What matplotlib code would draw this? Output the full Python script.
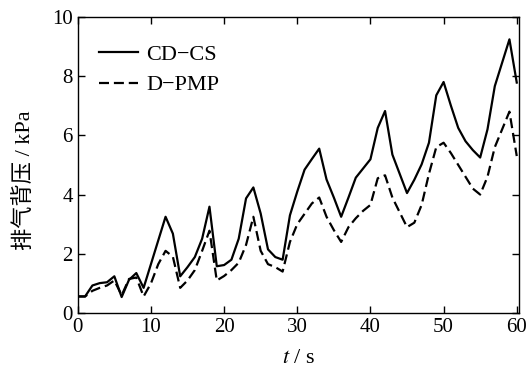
import numpy as np
import matplotlib
matplotlib.use('Agg')
import matplotlib.pyplot as plt

plt.rcParams['font.family'] = ['Liberation Serif', 'Noto Sans CJK SC']
plt.rcParams['mathtext.fontset'] = 'stix'

# 时间 (s)
t = np.arange(0, 61)

# CD-CS 排气背压 (kPa)
cdcs = [0.56, 0.56, 0.93, 1.01, 1.04, 1.24, 0.54, 1.12, 1.35, 0.85,
        1.65, 2.45, 3.25, 2.68, 1.24, 1.55, 1.89, 2.51, 3.59, 1.58,
        1.62, 1.80, 2.51, 3.87, 4.24, 3.36, 2.15, 1.89, 1.80, 3.30,
        4.10, 4.84, 5.20, 5.55, 4.51, 3.90, 3.25, 3.90, 4.57, 4.88,
        5.19, 6.25, 6.82, 5.35, 4.70, 4.05, 4.50, 5.02, 5.75, 7.35,
        7.80, 7.00, 6.25, 5.80, 5.50, 5.25, 6.20, 7.66, 8.45, 9.24,
        7.78]

# D-PMP 排气背压 (kPa)
dpmp = [0.56, 0.56, 0.75, 0.85, 0.93, 1.10, 0.60, 1.15, 1.20, 0.56,
        1.00, 1.65, 2.10, 1.90, 0.85, 1.10, 1.45, 2.10, 2.78, 1.10,
        1.25, 1.45, 1.70, 2.30, 3.25, 2.10, 1.65, 1.55, 1.40, 2.40,
        3.00, 3.35, 3.70, 3.90, 3.25, 2.80, 2.40, 2.90, 3.20, 3.45,
        3.65, 4.55, 4.65, 3.90, 3.40, 2.90, 3.05, 3.65, 4.70, 5.60,
        5.75, 5.40, 5.00, 4.60, 4.20, 4.00, 4.60, 5.60, 6.20, 6.80,
        5.30]

fig = plt.figure(figsize=(5.29, 3.74), dpi=100)
ax = fig.add_axes([0.147, 0.163, 0.834, 0.792])

ax.plot(t, cdcs, color='black', lw=1.6, label='CD\u2212CS')
ax.plot(t, dpmp, color='black', lw=1.6, dashes=(4.5, 2.2), label='D\u2212PMP')

ax.set_xlim(0, 60.3)
ax.set_ylim(0, 10)
ax.set_xticks(range(0, 61, 10))
ax.set_yticks(range(0, 11, 2))
ax.tick_params(direction='in', top=True, right=True, labelsize=15, length=5, width=1)
for s in ax.spines.values():
    s.set_linewidth(1)

ax.set_xlabel('$t$ / s', fontsize=16, labelpad=9)
ax.set_ylabel('排气背压 / kPa', fontsize=16)
ax.yaxis.set_label_coords(-0.098, 0.45)

ax.legend(loc='upper left', bbox_to_anchor=(0.012, 0.96), frameon=False,
          fontsize=16, handlelength=1.75, handletextpad=0.4,
          borderaxespad=0.3, labelspacing=0.45)

fig.savefig('out.png', dpi=100)
